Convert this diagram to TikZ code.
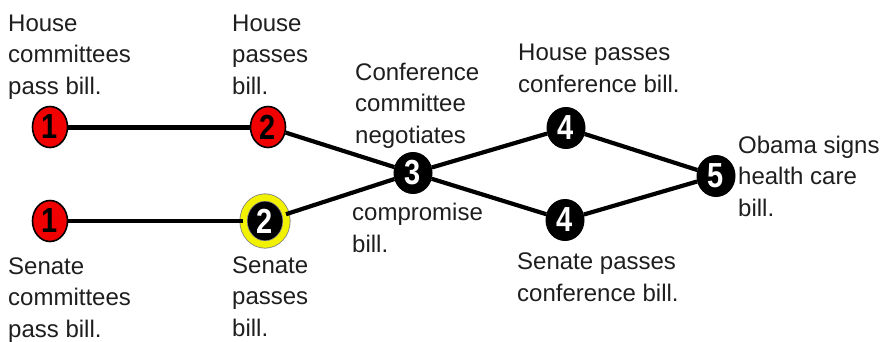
\documentclass[tikz,border=0pt]{standalone}
\usepackage{fontspec}
\setmainfont{Liberation Sans}
\usetikzlibrary{shapes.geometric}
\definecolor{stepred}{HTML}{F00000}
\definecolor{ringyellow}{HTML}{F2F200}
\definecolor{labelgray}{HTML}{1E1E1E}
\tikzset{
  numbase/.style={ellipse, inner sep=0pt, font=\fontsize{29}{29}\selectfont\bfseries},
  rednum/.style={numbase, fill=stepred, draw=black, line width=1.6pt,
    minimum width=35pt, minimum height=41pt},
  blacknum/.style={numbase, fill=black, text=white, draw=black, line width=1pt,
    minimum width=38pt, minimum height=41pt},
  ringnum/.style={numbase, fill=black, text=white, draw=gray, double=ringyellow,
    double distance=6.5pt, line width=0.8pt, minimum width=43pt, minimum height=47pt},
  % anchored at the baseline of the last line
  caption/.style={align=left, anchor=base west, inner sep=0pt, text=labelgray,
    font=\fontsize{24}{31.5}\selectfont},
  link/.style={line width=4.2pt, black}
}
\newcommand{\tall}[1]{\scalebox{1}[1.2]{#1}}
\begin{document}
\begin{tikzpicture}[x=1pt, y=-1pt]
  \useasboundingbox (0,0) rectangle (882,341);

  % step markers
  \node[rednum]   (h1) at (50,127)  {\tall{1}};
  \node[rednum]   (h2) at (268,127) {\tall{2}};
  \node[rednum]   (s1) at (50,221)  {\tall{1}};
  \node[ringnum]  (s2) at (265,221) {\tall{2}};
  \node[blacknum] (c3) at (413,173) {\tall{3}};
  \node[blacknum] (h4) at (566,128) {\tall{4}};
  \node[blacknum] (s4) at (565,220) {\tall{4}};
  \node[blacknum] (o5) at (716,176) {\tall{5}};

  % connecting lines
  \draw[link, line width=5pt] (h1) -- (h2);
  \draw[link] (s1) -- (s2);
  \draw[link] (h2) -- (c3);
  \draw[link] (s2) -- (c3);
  \draw[link] (c3) -- (h4);
  \draw[link] (c3) -- (s4);
  \draw[link] (h4) -- (o5);
  \draw[link] (s4) -- (o5);

  % step descriptions
  \node[caption] (th1) at (8,94)    {House\\committees\\pass bill.};
  \node[caption] (th2) at (232,94)  {House\\passes\\bill.};
  \node[caption] (ts1) at (8,337)   {Senate\\committees\\pass bill.};
  \node[caption] (ts2) at (232,336) {Senate\\passes\\bill.};
  \node[caption] (tc3) at (355,143) {Conference\\committee\\negotiates};
  \node[caption] (tc3b) at (352,252) {compromise\\bill.};
  \node[caption] (th4) at (518,92)  {House passes\\conference bill.};
  \node[caption] (ts4) at (517,301) {Senate passes\\conference bill.};
  \node[caption] (to5) at (738,216) {Obama signs\\health care\\bill.};
\end{tikzpicture}
\end{document}
